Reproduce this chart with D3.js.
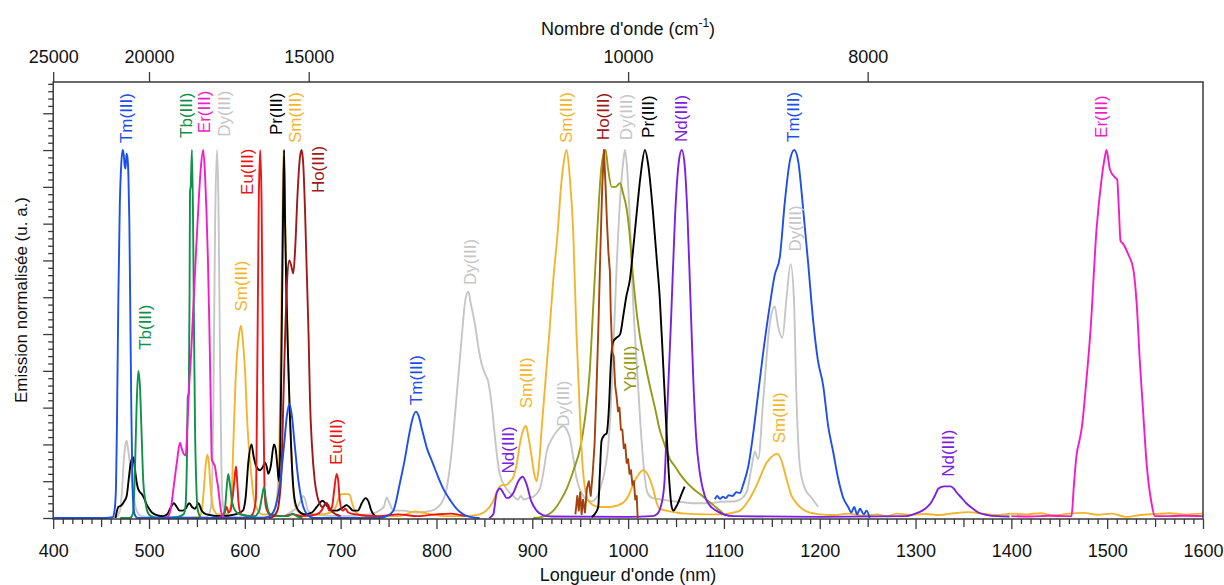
<!DOCTYPE html>
<html><head><meta charset="utf-8">
<script src="https://cdn.jsdelivr.net/npm/d3@7"></script>
<style>
html,body{margin:0;padding:0;background:#fff;}
svg{display:block;font-family:"Liberation Sans",Arial,Helvetica,sans-serif;}
</style></head><body>
<svg id="chart" width="1224" height="585"></svg>
<script>
// ---------- DATA (wavelength nm, normalised emission) ----------
const dy = [[455,0],[465,0.003],[469.7,0.02],[472,0.08],[473.5,0.15],[475.5,0.2],[476.7,0.21],[478,0.19],[480,0.15],[482,0.1],[484,0.06],[487,0.02],[492,0.005],[500,0.003],[560,0.003],[564,0.02],[566,0.1],[567.5,0.4],[569,0.8],[571,1.0],[572.5,0.85],[574,0.45],[575.5,0.15],[577,0.04],[580,0.01],[590,0.003],[640,0.005],[650,0.02],[655,0.03],[658,0.045],[661,0.06],[663,0.05],[666,0.02],[672,0.01],[700,0.005],[730,0.01],[745,0.03],[748,0.056],[751,0.04],[755,0.02],[765,0.02],[780,0.015],[795,0.02],[805,0.04],[810.6,0.08],[815,0.16],[821,0.33],[826,0.48],[830,0.59],[833.2,0.615],[836,0.58],[840,0.53],[844,0.46],[847,0.42],[851,0.39],[854,0.37],[858,0.3],[861,0.22],[866,0.12],[873,0.08],[880,0.06],[885,0.05],[888,0.06],[891,0.05],[897,0.055],[902,0.06],[908,0.08],[912,0.13],[915,0.18],[921.6,0.22],[927,0.24],[932,0.25],[936,0.24],[939,0.22],[943,0.16],[946,0.11],[951,0.07],[956.7,0.05],[962,0.045],[968,0.06],[972,0.09],[975,0.12],[980,0.22],[984,0.42],[988,0.68],[992,0.88],[995,0.97],[996.7,1.0],[999,0.95],[1002,0.8],[1005,0.6],[1009,0.42],[1013,0.25],[1017,0.12],[1020,0.07],[1025,0.055],[1035,0.05],[1050,0.045],[1070,0.04],[1085,0.04],[1100,0.045],[1110,0.045],[1116.7,0.05],[1123.7,0.07],[1129,0.14],[1132.3,0.18],[1135.8,0.16],[1141,0.32],[1148,0.53],[1153,0.575],[1156.6,0.52],[1161,0.49],[1165.4,0.6],[1169.6,0.69],[1173,0.6],[1175.8,0.32],[1179.3,0.14],[1184.5,0.08],[1191.5,0.055],[1198.4,0.03]];

const yb = [[901,0],[910,0.003],[922,0.02],[930,0.05],[936,0.08],[943,0.13],[950,0.19],[955,0.27],[960,0.4],[963.5,0.57],[967,0.74],[970,0.88],[972,0.95],[974.5,0.99],[976.5,1.0],[979,0.95],[982.8,0.9],[987,0.9],[991.5,0.91],[995,0.88],[998.5,0.84],[1002,0.76],[1005,0.66],[1008,0.58],[1012,0.5],[1017,0.43],[1022.6,0.36],[1028,0.3],[1033,0.24],[1038,0.2],[1043.6,0.16],[1049,0.14],[1054,0.12],[1060,0.1],[1067.6,0.08],[1075,0.065],[1082,0.05],[1089,0.035],[1096,0.02],[1102,0.005]];

const sm = [[540,0],[550,0.002],[553,0.005],[555,0.02],[557,0.07],[559,0.14],[560.8,0.172],[562.5,0.15],[564,0.09],[566,0.04],[568,0.02],[572,0.01],[580,0.01],[584,0.02],[586,0.05],[588,0.2],[590,0.35],[592,0.45],[594,0.5],[596,0.523],[598,0.48],[599.5,0.43],[601,0.36],[602,0.29],[604,0.2],[607,0.11],[609,0.06],[612,0.03],[618,0.01],[628,0.01],[632,0.03],[635,0.1],[637,0.35],[639,0.75],[640.3,1.0],[641.5,0.9],[643.6,0.6],[646,0.35],[648,0.22],[650.5,0.08],[653,0.03],[660,0.01],[680,0.01],[690,0.015],[695,0.03],[698,0.055],[701,0.065],[705,0.065],[709,0.065],[712,0.04],[716,0.015],[725,0.005],[760,0.005],[770,0.012],[778,0.018],[785,0.015],[795,0.01],[810,0.005],[830,0.005],[845,0.01],[852,0.02],[858,0.04],[863,0.07],[866,0.085],[870,0.09],[873,0.09],[877,0.1],[880,0.11],[884,0.15],[887,0.2],[890,0.235],[893.4,0.25],[896,0.22],[899.3,0.167],[902,0.12],[904.5,0.1],[906,0.12],[910,0.25],[914,0.38],[918,0.51],[922,0.65],[926.6,0.78],[930,0.9],[933,0.97],[935.8,1.0],[939,0.93],[942.7,0.78],[946,0.51],[949.7,0.28],[952,0.16],[955,0.08],[958,0.05],[963.6,0.035],[970,0.03],[980,0.03],[990,0.035],[998,0.05],[1002,0.07],[1005,0.09],[1010,0.115],[1015.8,0.13],[1020,0.12],[1026,0.08],[1030,0.04],[1033,0.025],[1040,0.02],[1050,0.015],[1060,0.012],[1080,0.01],[1099,0.01],[1110,0.015],[1116.7,0.02],[1123.7,0.04],[1130.6,0.07],[1137.6,0.11],[1144.5,0.15],[1151.5,0.17],[1155.6,0.175],[1160.2,0.155],[1165.4,0.105],[1170.6,0.06],[1175.8,0.04],[1184.5,0.02],[1195,0.012],[1200,0.01],[1215,0.008],[1230,0.012],[1245,0.006],[1260,0.01],[1270,0.004],[1280,0.012],[1295,0.009],[1310,0.011],[1325,0.008],[1340,0.013],[1355,0.016],[1370,0.012],[1385,0.008],[1400,0.012],[1415,0.01],[1430,0.013],[1445,0.007],[1460,0.012],[1475,0.014],[1490,0.009],[1505,0.012],[1520,0.003],[1535,0.008],[1550,0.011],[1565,0.013],[1580,0.01],[1600,0.012]];

const nd = [[855,0],[859.3,0.01],[862.8,0.068],[866.3,0.08],[869.8,0.068],[873.3,0.054],[877,0.058],[880.2,0.068],[885.4,0.1],[890,0.112],[894,0.092],[899,0.045],[904.5,0.02],[911,0.008],[920,0.004],[1000,0.003],[1025,0.005],[1030,0.01],[1035,0.04],[1038,0.1],[1041,0.3],[1045,0.55],[1049,0.82],[1053,0.97],[1056,1.0],[1059,0.96],[1062,0.82],[1065,0.6],[1068,0.38],[1071,0.22],[1075,0.12],[1080,0.06],[1085,0.035],[1092,0.02],[1100,0.01],[1110,0.005],[1200,0.003],[1290,0.005],[1303,0.015],[1310,0.025],[1315.7,0.04],[1320,0.06],[1324,0.08],[1330,0.086],[1336.5,0.086],[1340,0.08],[1342.7,0.07],[1348,0.055],[1353,0.04],[1360,0.025],[1365.6,0.015],[1375,0.008],[1385,0.005],[1398,0.004]];

const prVis = [[465,0],[468,0.03],[471.5,0.035],[474,0.045],[476.7,0.06],[479,0.11],[481,0.15],[483.6,0.165],[485,0.14],[486.4,0.11],[488,0.085],[490.6,0.07],[492.5,0.065],[494.7,0.055],[497,0.04],[499,0.03],[503,0.015],[506,0.01],[514.6,0.005],[519,0.01],[522,0.025],[526,0.04],[529,0.03],[532,0.02],[535,0.02],[538,0.025],[542,0.04],[545,0.03],[548,0.025],[551.5,0.04],[555,0.02],[560,0.01],[575,0.005],[590,0.01],[598,0.02],[601,0.06],[603.6,0.15],[607,0.2],[609,0.17],[612,0.14],[615.8,0.13],[619,0.14],[621,0.15],[622.8,0.14],[624.5,0.12],[627,0.14],[630.4,0.2],[632,0.19],[634,0.14],[635.5,0.1],[637,0.2],[638.5,0.5],[640,0.85],[641,1.0],[642,0.8],[643.5,0.6],[645,0.45],[647,0.28],[649,0.15],[652,0.05],[656,0.02],[662,0.01],[670,0.015],[675,0.03],[678,0.04],[681,0.047],[684,0.04],[688,0.025],[692,0.02],[696,0.02],[700,0.025],[703,0.03],[706,0.035],[709,0.03],[713,0.02],[718,0.02],[722,0.04],[726,0.054],[729,0.045],[732,0.02],[736,0.005],[740,0]];

const prNir = [[962,0.003],[965,0.01],[968.8,0.03],[970.5,0.12],[972.3,0.21],[975,0.225],[977.6,0.23],[980,0.3],[982,0.42],[984.5,0.48],[988,0.49],[991.7,0.5],[995,0.55],[998,0.6],[1002,0.65],[1006,0.75],[1009,0.83],[1013,0.93],[1017.6,1.0],[1021,0.96],[1026,0.83],[1030,0.7],[1033,0.6],[1036,0.45],[1040,0.24],[1043,0.1],[1045.5,0.03],[1047.5,0.02],[1050,0.03],[1052,0.04],[1055,0.06],[1059,0.085]];

const eu = [[570,0],[576,0.005],[579,0.015],[581,0.03],[583,0.015],[585,0.02],[587,0.05],[589,0.1],[590.8,0.14],[592,0.1],[593.5,0.04],[596,0.01],[605,0.005],[608,0.01],[611.5,0.05],[613,0.4],[614.5,0.85],[616,1.0],[617.5,0.85],[619,0.4],[620.5,0.08],[622,0.03],[626,0.01],[640,0.005],[650,0.01],[660,0.005],[675,0.01],[680,0.02],[683,0.035],[685.4,0.04],[688,0.02],[691,0.03],[693,0.07],[695.8,0.12],[697.5,0.1],[699,0.05],[702,0.02],[705,0.025],[708,0.015],[715,0.01],[740,0.005],[760,0.01],[780,0.005],[800,0.01],[815,0.012],[830,0.005]];

const tb = [[470,0],[480,0],[483,0.01],[485,0.1],[487,0.3],[488.8,0.4],[490.5,0.36],[492,0.25],[494,0.1],[496,0.05],[498,0.02],[502,0.005],[510,0],[530,0.003],[536,0.01],[538,0.03],[539.5,0.15],[540.5,0.33],[541.5,0.34],[542.3,0.6],[542.8,0.89],[543.5,0.9],[544.8,1.0],[546,0.8],[547,0.5],[548,0.25],[549.5,0.08],[551,0.02],[555,0],[575,0],[579,0.02],[581,0.08],[582.7,0.12],[584.5,0.09],[587,0.04],[590,0.02],[595,0.01],[610,0.005],[615,0.02],[618,0.06],[620,0.083],[622,0.05],[625,0.015],[630,0.005],[645,0.005],[650,0.012],[655,0.004],[660,0]];

const hoVis = [[625,0],[630,0.005],[634,0.02],[636,0.05],[638.4,0.14],[640,0.3],[642,0.49],[644,0.64],[646.4,0.70],[648.5,0.685],[650.6,0.665],[652.5,0.73],[655,0.88],[657.5,0.98],[659.3,1.0],[661,0.96],[663,0.82],[664.5,0.68],[666.5,0.5],[668,0.32],[670,0.2],[673,0.1],[676,0.055],[678,0.04],[681,0.03],[685.4,0.04],[690,0.02],[695,0.01],[700,0.005]];

const hoNir = [[945,0.01],[947,0.06],[948.5,0.02],[950,0.07],[951.5,0.01],[953,0.05],[955,0.015],[957,0.08],[959,0.1],[961,0.06],[963,0.12],[965,0.2],[967,0.35],[969,0.52],[971,0.72],[973,0.9],[974.8,1.0],[976.5,0.9],[978,0.8],[979.5,0.72],[981,0.67],[982,0.55],[983.5,0.45],[985,0.44],[986.5,0.36],[988,0.33],[989.5,0.29],[991,0.3],[992.5,0.24],[994,0.24],[995.5,0.19],[997,0.2],[998.5,0.15],[1000,0.16],[1001.5,0.12],[1003,0.13],[1004.5,0.09],[1006,0.1],[1007.5,0.05],[1009,0.06],[1010,0]];

const erVis = [[515,0],[520,0.005],[523,0.03],[526,0.09],[529,0.15],[532.3,0.205],[534,0.19],[536,0.175],[538.3,0.17],[540,0.25],[541.5,0.34],[544,0.45],[546,0.56],[549,0.72],[551.4,0.84],[554,0.95],[556.6,1.0],[558.5,0.93],[560,0.83],[561.5,0.7],[563,0.52],[564.5,0.3],[565.5,0.16],[567,0.15],[568.8,0.14],[570.5,0.11],[572.3,0.08],[574,0.04],[576,0.01],[580,0]];

const erNir = [[1400,0.005],[1420,0.004],[1440,0.006],[1460,0.005],[1462.8,0.005],[1465,0.08],[1468,0.17],[1471,0.21],[1473.2,0.24],[1478.5,0.38],[1482.6,0.51],[1488.9,0.785],[1494.1,0.92],[1497.5,0.98],[1499.3,1.0],[1502.8,0.948],[1508.1,0.926],[1510.4,0.92],[1512.2,0.84],[1513.9,0.754],[1516.7,0.745],[1521.9,0.717],[1527.2,0.677],[1530.7,0.586],[1534.2,0.42],[1537.6,0.285],[1541.1,0.15],[1546.3,0.04],[1549.8,0.005],[1560,0.005],[1580,0.006],[1600,0.005]];

const tmVis = [[400,0],[455,0],[462,0.002],[464,0.02],[465.5,0.08],[466.5,0.25],[468,0.6],[469.5,0.85],[471,0.96],[472.5,1.0],[473.5,0.99],[474.5,0.96],[475.5,0.95],[476.5,0.99],[477.5,0.98],[478.5,0.93],[479.5,0.8],[480.5,0.55],[481.5,0.3],[482.5,0.12],[483.5,0.04],[485,0.01],[488,0],[620,0],[628,0.01],[633,0.04],[637,0.1],[641,0.2],[644,0.28],[646.5,0.31],[649,0.28],[652,0.2],[656,0.1],[660,0.04],[665,0.01],[672,0],[740,0],[748,0.005],[755,0.02],[762,0.097],[767,0.16],[771,0.22],[775,0.27],[778.6,0.289],[781,0.28],[785,0.24],[790,0.19],[796,0.15],[802,0.11],[808,0.075],[814,0.05],[820,0.028],[828,0.01],[835,0.003],[845,0]];

const tmNir = [[1090.6,0.051],[1093,0.06],[1096,0.052],[1099,0.058],[1102,0.054],[1105,0.062],[1109,0.06],[1113,0.07],[1116.7,0.068],[1120,0.09],[1125.4,0.14],[1130.6,0.23],[1135.8,0.34],[1141,0.45],[1148,0.58],[1153,0.66],[1158.4,0.71],[1163.6,0.86],[1168.8,0.97],[1173.4,1.0],[1177.5,0.97],[1182.7,0.84],[1188,0.69],[1193,0.54],[1198,0.43],[1203.6,0.36],[1208.8,0.25],[1214,0.18],[1219,0.11],[1224.5,0.055],[1229.7,0.03],[1233,0.015],[1236,0.03],[1239,0.01],[1242,0.025],[1246,0.01],[1249,0.02],[1252,0.0]];

const bottomTicks = [400,500,600,700,800,900,1000,1100,1200,1300,1400,1500,1600];
const topTicks = [25000,20000,15000,10000,8000];

const annotations = [
  {t:"Tm(III)", s:"Tm", nm:476.0, v:1.019},
  {t:"Tb(III)", s:"Tb", nm:538.6, v:1.033},
  {t:"Er(III)", s:"Er", nm:557.4, v:1.046},
  {t:"Dy(III)", s:"Dy", nm:578.2, v:1.036},
  {t:"Eu(III)", s:"Eu", nm:602.2, v:0.878},
  {t:"Pr(III)", s:"Pr", nm:632.5, v:1.041},
  {t:"Sm(III)", s:"Sm", nm:652.3, v:1.019},
  {t:"Ho(III)", s:"Ho", nm:676.3, v:0.883},
  {t:"Sm(III)", s:"Sm", nm:935.8, v:1.019},
  {t:"Ho(III)", s:"Ho", nm:974.0, v:1.027},
  {t:"Dy(III)", s:"Dy", nm:998.5, v:1.027},
  {t:"Pr(III)", s:"Pr", nm:1021.0, v:1.033},
  {t:"Nd(III)", s:"Nd", nm:1055.8, v:1.022},
  {t:"Tm(III)", s:"Tm", nm:1172.3, v:1.022},
  {t:"Er(III)", s:"Er", nm:1494.1, v:1.033},
  {t:"Tb(III)", s:"Tb", nm:495.8, v:0.457},
  {t:"Sm(III)", s:"Sm", nm:596.7, v:0.561},
  {t:"Eu(III)", s:"Eu", nm:695.8, v:0.144},
  {t:"Dy(III)", s:"Dy", nm:834.9, v:0.633},
  {t:"Tm(III)", s:"Tm", nm:779.3, v:0.307},
  {t:"Nd(III)", s:"Nd", nm:874.9, v:0.121},
  {t:"Sm(III)", s:"Sm", nm:894.1, v:0.298},
  {t:"Dy(III)", s:"Dy", nm:932.3, v:0.248},
  {t:"Yb(III)", s:"Yb", nm:1001.9, v:0.343},
  {t:"Dy(III)", s:"Dy", nm:1174.1, v:0.724},
  {t:"Sm(III)", s:"Sm", nm:1157.7, v:0.203},
  {t:"Nd(III)", s:"Nd", nm:1334.4, v:0.112}
];

// ---------- STYLE ----------
const colors = {Tm:"#1d4fec", Tb:"#10914a", Er:"#f41cc8", Dy:"#c6c6c6", Pr:"#000000", Sm:"#f4b52e",
  Eu:"#ef1515", Ho:"#a01818", HoNir:"#a3420c", Yb:"#939a14", Nd:"#7a20e2"};
const series = [
  {d:dy, c:"Dy"}, {d:yb, c:"Yb"}, {d:sm, c:"Sm"}, {d:nd, c:"Nd"}, {d:prVis, c:"Pr"}, {d:prNir, c:"Pr"},
  {d:eu, c:"Eu"}, {d:tb, c:"Tb"}, {d:hoVis, c:"Ho"}, {d:hoNir, c:"HoNir", lin:true},
  {d:erVis, c:"Er"}, {d:erNir, c:"Er"}, {d:tmVis, c:"Tm"}, {d:tmNir, c:"Tm"}
];

const svg = d3.select("#chart");
const L = 53.2, R = 1203, T = 82, B = 519;
const x = d3.scaleLinear().domain([400,1600]).range([L,R]);
const y = d3.scaleLinear().domain([-0.0027,1.185]).range([B,T]);
const axisColor = "#3a3a3a";

function styleAxis(g){
  g.select(".domain").remove();
  g.selectAll(".tick line").attr("stroke",axisColor).attr("stroke-width",1.3);
  g.selectAll(".tick text").attr("fill","#111").style("font-size","18px")
   .style("font-family",'"Liberation Sans",Arial,sans-serif');
}

// bottom axis: minor (10), mid (50), major (100)
const all10 = d3.range(0,121).map(i=>400+i*10);
svg.append("g").attr("transform",`translate(0,${B})`)
  .call(d3.axisBottom(x).tickValues(all10.filter(v=>v%50!==0)).tickSize(5).tickFormat(""))
  .call(styleAxis);
svg.append("g").attr("transform",`translate(0,${B})`)
  .call(d3.axisBottom(x).tickValues(all10.filter(v=>v%50===0 && v%100!==0)).tickSize(8).tickFormat(""))
  .call(styleAxis);
svg.append("g").attr("transform",`translate(0,${B})`)
  .call(d3.axisBottom(x).tickValues(bottomTicks).tickSize(10).tickPadding(15).tickFormat(d3.format("d")))
  .call(styleAxis);

// left axis ticks
const yMinor = d3.range(0,60).filter(i=>i%5!==0).map(i=>i*0.02);
const yMajor = d3.range(0,12).map(i=>i*0.1);
svg.append("g").attr("transform",`translate(${L},0)`)
  .call(d3.axisLeft(y).tickValues(yMinor).tickSize(5).tickFormat("")).call(styleAxis);
svg.append("g").attr("transform",`translate(${L},0)`)
  .call(d3.axisLeft(y).tickValues(yMajor).tickSize(10).tickFormat("")).call(styleAxis);

// top axis (wavenumber)
svg.append("g").attr("transform",`translate(0,${T})`)
  .call(d3.axisTop(x).tickValues(topTicks.map(w=>1e7/w)).tickSize(10).tickPadding(9)
    .tickFormat(d=>String(Math.round(1e7/d))))
  .call(styleAxis);

// clip for curves
svg.append("clipPath").attr("id","plotclip").append("rect")
  .attr("x",L).attr("y",T).attr("width",R-L).attr("height",B-T);

const gC = svg.append("g").attr("clip-path","url(#plotclip)");
series.forEach(s=>{
  const line = d3.line().x(d=>x(d[0])).y(d=>y(d[1]))
    .curve(s.lin ? d3.curveLinear : d3.curveMonotoneX);
  gC.append("path").datum(s.d).attr("d",line).attr("fill","none")
    .attr("stroke",colors[s.c]).attr("stroke-width",1.9).attr("stroke-linejoin","round");
});

// frame
svg.append("rect").attr("x",L).attr("y",T).attr("width",R-L).attr("height",B-T)
  .attr("fill","none").attr("stroke",axisColor).attr("stroke-width",1.5);

// annotations
svg.append("g").selectAll("text").data(annotations).join("text")
  .attr("transform",d=>`translate(${x(d.nm)},${y(d.v)}) rotate(-90)`)
  .attr("dy","0.33em").attr("text-anchor","start")
  .style("font-size","17px").attr("fill",d=>colors[d.s]).text(d=>d.t);

// titles
const topTitle = svg.append("text").attr("x",628).attr("y",35).attr("text-anchor","middle")
  .style("font-size","18px").attr("fill","#111");
topTitle.append("tspan").text("Nombre d'onde (cm");
topTitle.append("tspan").attr("dy","-8").style("font-size","12px").text("-1");
topTitle.append("tspan").attr("dy","8").text(")");

svg.append("text").attr("x",628).attr("y",581).attr("text-anchor","middle")
  .style("font-size","18px").attr("fill","#111").text("Longueur d'onde (nm)");

svg.append("text").attr("transform","translate(27,300) rotate(-90)").attr("text-anchor","middle")
  .style("font-size","17px").attr("fill","#111").text("Emission normalisée (u. a.)");
</script></body></html>
